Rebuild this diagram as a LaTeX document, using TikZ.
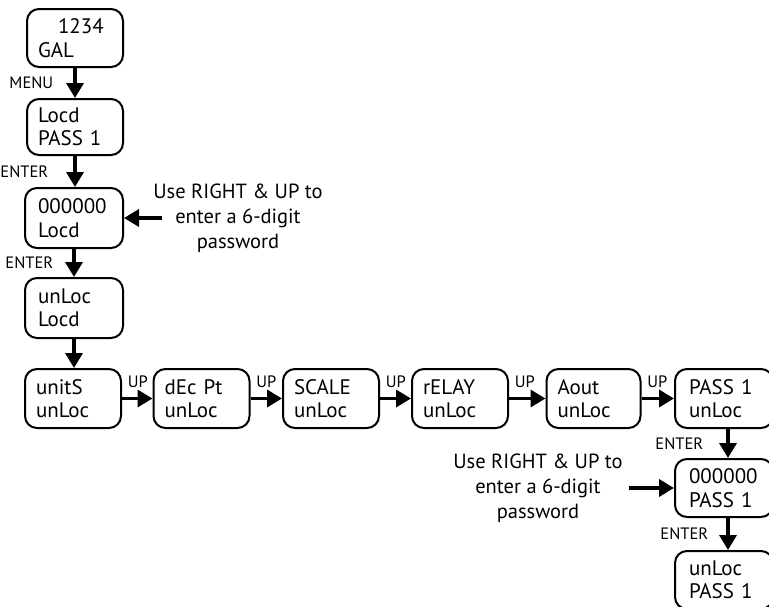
\documentclass[tikz,border=0pt]{standalone}
\usepackage{fontspec}
\setmainfont{PT Sans}
\usetikzlibrary{arrows.meta}
\begin{document}
\begin{tikzpicture}[x=1pt,y=-1pt,
 box/.style={draw, line width=2pt, rounded corners=12pt, minimum height=58pt, text width=74pt, inner xsep=11pt, align=left, font=\fontsize{21}{23.5}\selectfont},
 rbox/.style={box, text width=70pt, inner xsep=14pt},
 arr/.style={line width=3.5pt, -{Triangle[length=15pt,width=17pt]}},
 lab/.style={font=\fontsize{16.5}{18}\selectfont, inner sep=0pt},
 note/.style={font=\fontsize{20.5}{25}\selectfont, align=center, inner sep=0pt}]
\useasboundingbox (0,0) rectangle (769,606);
% left column
\node[box] (b1) at (75,38) {\hspace*{20pt}1234\\GAL};
\node[box, minimum height=56pt] (b2) at (75,127) {Locd\\PASS 1};
\node[box, minimum height=60pt, inner xsep=13pt, text width=72pt] (b3) at (74,218) {000000\\Locd};
\node[box, minimum height=60pt, inner xsep=13pt, text width=72pt] (b4) at (74,308) {unLoc\\Locd};
% row
\node[box, minimum height=59pt] (r1) at (73,398.5) {unitS\\unLoc};
\node[box, minimum height=59pt] (r2) at (201.5,398.5) {dEc Pt\\unLoc};
\node[box, minimum height=59pt] (r3) at (331,398.5) {SCALE\\unLoc};
\node[box, minimum height=59pt] (r4) at (460,398.5) {rELAY\\unLoc};
\node[box, minimum height=59pt, text width=72pt, inner xsep=11pt] (r5) at (593.5,398.5) {Aout\\unLoc};
\node[rbox, minimum height=59pt] (r6) at (724,398.5) {PASS 1\\unLoc};
% right column
\node[rbox] (c1) at (724,488) {000000\\PASS 1};
\node[rbox] (c2) at (724,580) {unLoc\\PASS 1};
% notes
\node[note] (t1) at (238,218) {Use RIGHT \& UP to\\enter a 6-digit\\password};
\node[note] (t2) at (538,488) {Use RIGHT \& UP to\\enter a 6-digit\\password};
% arrows
\draw[arr] (b1.south) -- node[lab, pos=0.5, left=20pt]{MENU} (b2.south |- b2.north);
\draw[arr] (b2.south) -- node[lab, pos=0.5, left=25pt]{ENTER} (b2.south |- b3.north);
\draw[arr] (b3.south) -- node[lab, pos=0.5, left=19pt]{ENTER} (b4.north);
\draw[arr] (b4.south) -- (b4.south |- r1.north);
\draw[arr] ([xshift=9pt]t1.west) -- (b3.east);
\draw[arr] ([xshift=6pt]t2.east) -- (c1.west);
\foreach \a/\b in {r1/r2,r2/r3,r3/r4,r4/r5,r5/r6}{
  \draw[arr] (\a) -- node[lab, pos=0, anchor=south west, xshift=4pt, yshift=9pt]{UP} (\b);
}
\draw[arr] ([xshift=4pt]r6.south) -- node[lab, pos=0.5, left=23pt]{ENTER} ([xshift=4pt]c1.north);
\draw[arr] ([xshift=4pt]c1.south) -- node[lab, pos=0.5, left=18pt]{ENTER} ([xshift=4pt]c2.north);
\end{tikzpicture}
\end{document}
